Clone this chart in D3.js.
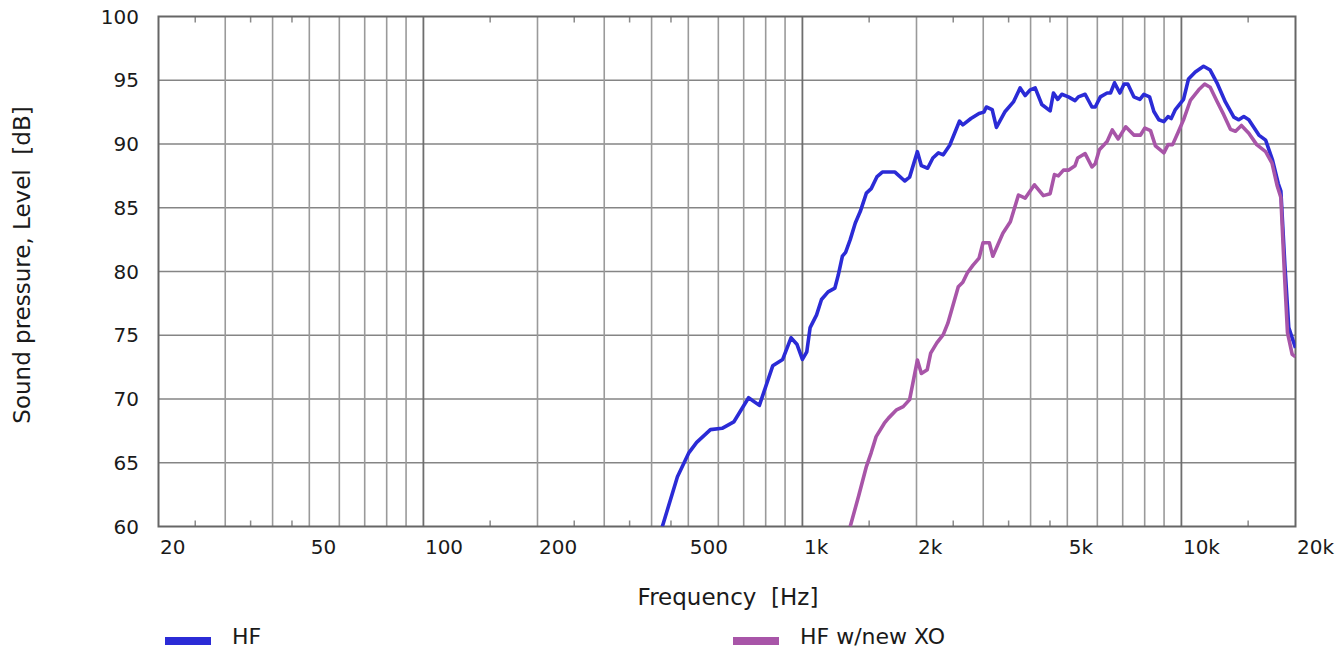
<!DOCTYPE html>
<head>
  <meta charset="utf-8">
  <title>Sound pressure level</title>
  <script src="https://cdn.jsdelivr.net/npm/d3@7"></script>
  <style>
    body { margin: 0; background: #fff; }
    text { font-family: "DejaVu Sans", Verdana, sans-serif; fill: #1a1a1a; }
  </style>
</head>

<body>
  <script type="text/javascript">
    var WIDTH = 1338;
    var HEIGHT = 648;

    // HF (blue) curve
    var hfFreq = [427, 468, 502, 526, 572, 614, 659, 721, 770, 835, 887, 933, 967, 1000, 1027, 1048,
      1090, 1123, 1169, 1218, 1243, 1275, 1300, 1337, 1379, 1421, 1475, 1519, 1574, 1625, 1755, 1862,
      1918, 2011, 2060, 2140, 2209, 2285, 2353, 2447, 2598, 2650, 2784, 2924, 3012, 3057, 3168, 3250,
      3427, 3604, 3754, 3870, 3990, 4113, 4282, 4504, 4596, 4718, 4834, 5033, 5240, 5347, 5572, 5807,
      5925, 6111, 6367, 6500, 6660, 6880, 7060, 7220, 7490, 7770, 7960, 8240, 8460, 8720, 8990, 9220,
      9400, 9640, 10130, 10440, 10880, 11440, 11910, 12410, 13060, 13750, 14170, 14610, 15060, 16010,
      16680, 17370, 18010, 18300, 18750, 19200, 20000];
    var hfLevel = [60.0, 63.9, 65.8, 66.6, 67.6, 67.7, 68.2, 70.1, 69.5, 72.6, 73.1, 74.8, 74.3, 73.1, 73.7, 75.6,
      76.6, 77.8, 78.4, 78.7, 79.7, 81.2, 81.5, 82.5, 83.8, 84.7, 86.15, 86.5, 87.45, 87.8, 87.8, 87.1,
      87.4, 89.4, 88.3, 88.1, 88.9, 89.3, 89.15, 89.9, 91.8, 91.5, 92.0, 92.4, 92.5, 92.9, 92.7, 91.3,
      92.55, 93.3, 94.4, 93.8, 94.25, 94.4, 93.1, 92.6, 94.0, 93.5, 93.9, 93.7, 93.4, 93.7, 93.9, 92.9,
      92.9, 93.7, 94.0, 94.0, 94.8, 94.0, 94.7, 94.7, 93.7, 93.5, 93.9, 93.7, 92.55, 91.9, 91.75, 92.15,
      92.0, 92.7, 93.5, 95.1, 95.65, 96.1, 95.8, 94.8, 93.3, 92.1, 91.9, 92.15, 91.9, 90.7,
      90.3, 88.8, 86.9, 86.3, 80.5, 75.6, 74.0];

    // HF w/new XO (purple) curve
    var xoFreq = [1337, 1406, 1475, 1519, 1565, 1645, 1687, 1772, 1845, 1918, 2011, 2060, 2135, 2180, 2263,
      2353, 2420, 2578, 2650, 2725, 2820, 2925, 2996, 3113, 3180, 3380, 3537, 3716, 3870, 4095, 4323,
      4504, 4624, 4735, 4884, 5033, 5240, 5326, 5572, 5807, 5925, 6075, 6367, 6570, 6811, 7130, 7490,
      7800, 8010, 8290, 8540, 8990, 9220, 9480, 9830, 10130, 10570, 11110, 11520, 11910, 12410, 12930,
      13470, 13890, 14400, 15060, 15800, 16680, 17340, 17900, 18300, 18680, 19050, 19600, 20000];
    var xoLevel = [60.0, 62.35, 64.7, 65.8, 67.05, 68.1, 68.5, 69.15, 69.4, 69.95, 73.05, 72.0, 72.3, 73.6, 74.4,
      75.05, 75.95, 78.8, 79.15, 79.9, 80.5, 81.05, 82.25, 82.25, 81.2, 83.0, 83.9, 86.0, 85.75, 86.8, 85.95,
      86.1, 87.6, 87.5, 87.95, 87.95, 88.3, 88.9, 89.25, 88.2, 88.45, 89.55, 90.2, 91.1, 90.4, 91.35, 90.7,
      90.7, 91.25, 91.05, 89.85, 89.3, 89.95, 89.95, 91.0, 91.9, 93.45, 94.25, 94.7, 94.45, 93.35, 92.3,
      91.15, 91.0, 91.45, 90.85, 89.95, 89.4, 88.5, 86.7, 85.8, 80.1, 75.2, 73.5, 73.3];

    var xTickValues = [20, 50, 100, 200, 500, 1000, 2000, 5000, 10000, 20000];
    var xTickLabels = ["20", "50", "100", "200", "500", "1k", "2k", "5k", "10k", "20k"];
    var yTickValues = [60, 65, 70, 75, 80, 85, 90, 95, 100];
    var seriesNames = ["HF", "HF w/new XO"];
    var seriesColors = ["#2b2bd6", "#a855a8"];

    (function(){
      var pLeft = 158.5, pRight = 1295.5, pTop = 16.5, pBottom = 526.5;

      var svg = d3.select("body").append("svg")
                  .attr("width", WIDTH)
                  .attr("height", HEIGHT);

      var x = d3.scaleLog().domain([20, 20000]).range([pLeft, pRight]);
      var y = d3.scaleLinear().domain([60, 100]).range([pBottom, pTop]);

      // vertical grid: 2..9 x decade (light), decades (dark)
      var minorGrid = [], majorGrid = [], halfTicks = [];
      [10, 100, 1000, 10000].forEach(function(dec){
        for (var k = 1; k <= 9; k++) {
          var v = k * dec;
          if (v <= 20 || v >= 20000) continue;
          if (k === 1) majorGrid.push(v); else minorGrid.push(v);
        }
        [1.5, 2.5, 3.5, 4.5].forEach(function(m){
          var v = m * dec;
          if (v > 20 && v < 20000) halfTicks.push(v);
        });
      });

      svg.append("g").selectAll("line")
         .data(yTickValues.slice(1, -1))
         .enter().append("line")
         .attr("x1", pLeft).attr("x2", pRight)
         .attr("y1", function(d){ return y(d); })
         .attr("y2", function(d){ return y(d); })
         .attr("stroke", "#858585").attr("stroke-width", 1.7);

      svg.append("g").selectAll("line")
         .data(minorGrid)
         .enter().append("line")
         .attr("x1", function(d){ return x(d); })
         .attr("x2", function(d){ return x(d); })
         .attr("y1", pTop).attr("y2", pBottom)
         .attr("stroke", "#9a9a9a").attr("stroke-width", 1.6);

      svg.append("g").selectAll("line")
         .data(majorGrid)
         .enter().append("line")
         .attr("x1", function(d){ return x(d); })
         .attr("x2", function(d){ return x(d); })
         .attr("y1", pTop).attr("y2", pBottom)
         .attr("stroke", "#6e6e6e").attr("stroke-width", 1.8);

      // small half-decade ticks on top and bottom edges
      var tg = svg.append("g").attr("stroke", "#8a8a8a").attr("stroke-width", 1.5);
      tg.selectAll("line.b").data(halfTicks).enter().append("line").attr("class", "b")
        .attr("x1", function(d){ return x(d); }).attr("x2", function(d){ return x(d); })
        .attr("y1", pBottom).attr("y2", pBottom - 6);
      tg.selectAll("line.t").data(halfTicks).enter().append("line").attr("class", "t")
        .attr("x1", function(d){ return x(d); }).attr("x2", function(d){ return x(d); })
        .attr("y1", pTop).attr("y2", pTop + 6);

      // frame
      svg.append("rect")
         .attr("x", pLeft).attr("y", pTop)
         .attr("width", pRight - pLeft).attr("height", pBottom - pTop)
         .attr("fill", "none").attr("stroke", "#666").attr("stroke-width", 2);

      // curves
      svg.append("clipPath").attr("id", "plot")
         .append("rect").attr("x", pLeft).attr("y", pTop)
         .attr("width", pRight - pLeft).attr("height", pBottom - pTop);

      var line = d3.line()
                   .x(function(d){ return x(d[0]); })
                   .y(function(d){ return y(d[1]); });

      var curves = [d3.zip(hfFreq, hfLevel), d3.zip(xoFreq, xoLevel)];
      svg.append("g").attr("clip-path", "url(#plot)")
         .selectAll("path")
         .data(curves)
         .enter().append("path")
         .attr("d", line)
         .attr("fill", "none")
         .attr("stroke", function(d, i){ return seriesColors[i]; })
         .attr("stroke-width", 3.6)
         .attr("stroke-linejoin", "round");

      // axis labels
      svg.append("g").selectAll("text")
         .data(xTickValues)
         .enter().append("text")
         .attr("x", function(d){ return x(d) + 1.5; })
         .attr("y", 554)
         .attr("font-size", 20)
         .text(function(d, i){ return xTickLabels[i]; });

      svg.append("g").selectAll("text")
         .data(yTickValues)
         .enter().append("text")
         .attr("x", 139)
         .attr("y", function(d){ return y(d) + 7; })
         .attr("text-anchor", "end")
         .attr("font-size", 20)
         .text(function(d){ return d; });

      svg.append("text")
         .attr("x", 728).attr("y", 605)
         .attr("text-anchor", "middle")
         .attr("font-size", 23)
         .attr("xml:space", "preserve")
         .text("Frequency  [Hz]");

      svg.append("text")
         .attr("transform", "translate(30,265) rotate(-90)")
         .attr("text-anchor", "middle")
         .attr("font-size", 23)
         .attr("xml:space", "preserve")
         .text("Sound pressure, Level  [dB]");

      // legend
      var legendX = [165, 733];
      var lg = svg.append("g").selectAll("g")
                  .data(seriesNames)
                  .enter().append("g")
                  .attr("transform", function(d, i){ return "translate(" + legendX[i] + ",637)"; });
      lg.append("rect")
        .attr("width", 46).attr("height", 8)
        .attr("fill", function(d, i){ return seriesColors[i]; });
      lg.append("text")
        .attr("x", 67).attr("y", 6.5)
        .attr("font-size", 22)
        .text(function(d){ return d; });
    })();
  </script>
</body>
